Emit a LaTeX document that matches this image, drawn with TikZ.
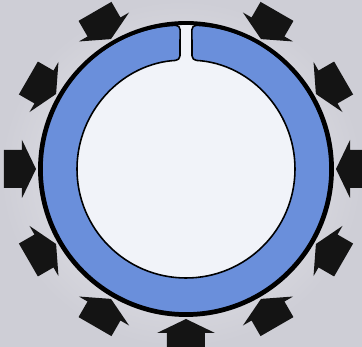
\documentclass[tikz,border=0pt]{standalone}
\usepackage{tikz}
\usetikzlibrary{calc}

\definecolor{ringblue}{RGB}{106,143,219}
\definecolor{borewhite}{RGB}{241,243,249}
\definecolor{bgedge}{RGB}{206,206,214}
\definecolor{bgmid}{RGB}{238,238,242}

\begin{document}
\begin{tikzpicture}[
    x=0.02cm, y=0.02cm,
    ring/.style={fill=ringblue, draw=black, line width=0.9pt, line join=round, rounded corners=2.5pt},
    rim/.style={draw=black, line width=2.2pt},
    push/.style={fill=black!92, draw=none},
]

    % Background
    \shade[inner color=bgmid, outer color=bgedge] (-186,-178) rectangle (176,169);
    \useasboundingbox (-186,-178) rectangle (176,169);

    % Bore
    \fill[borewhite] (0,0) circle[radius=146];

    % Ring with slit at top
    \path[ring] (92.36:144)
        arc[start angle=92.36, end angle=447.64, radius=144]
        -- (86.84:109)
        arc[start angle=86.84, end angle=-266.84, radius=109]
        -- cycle;

    % Outer rim
    \draw[rim] (0,0) circle[radius=146];

    % Pressure arrows
    \foreach \ang in {-90,-60,-30,0,30,60,120,150,180,210,240} {
        \fill[push, rotate=\ang] (150,0) -- (164,29) -- (164,19) -- (182,19)
            -- (182,-19) -- (164,-19) -- (164,-29) -- cycle;
    }

\end{tikzpicture}
\end{document}
